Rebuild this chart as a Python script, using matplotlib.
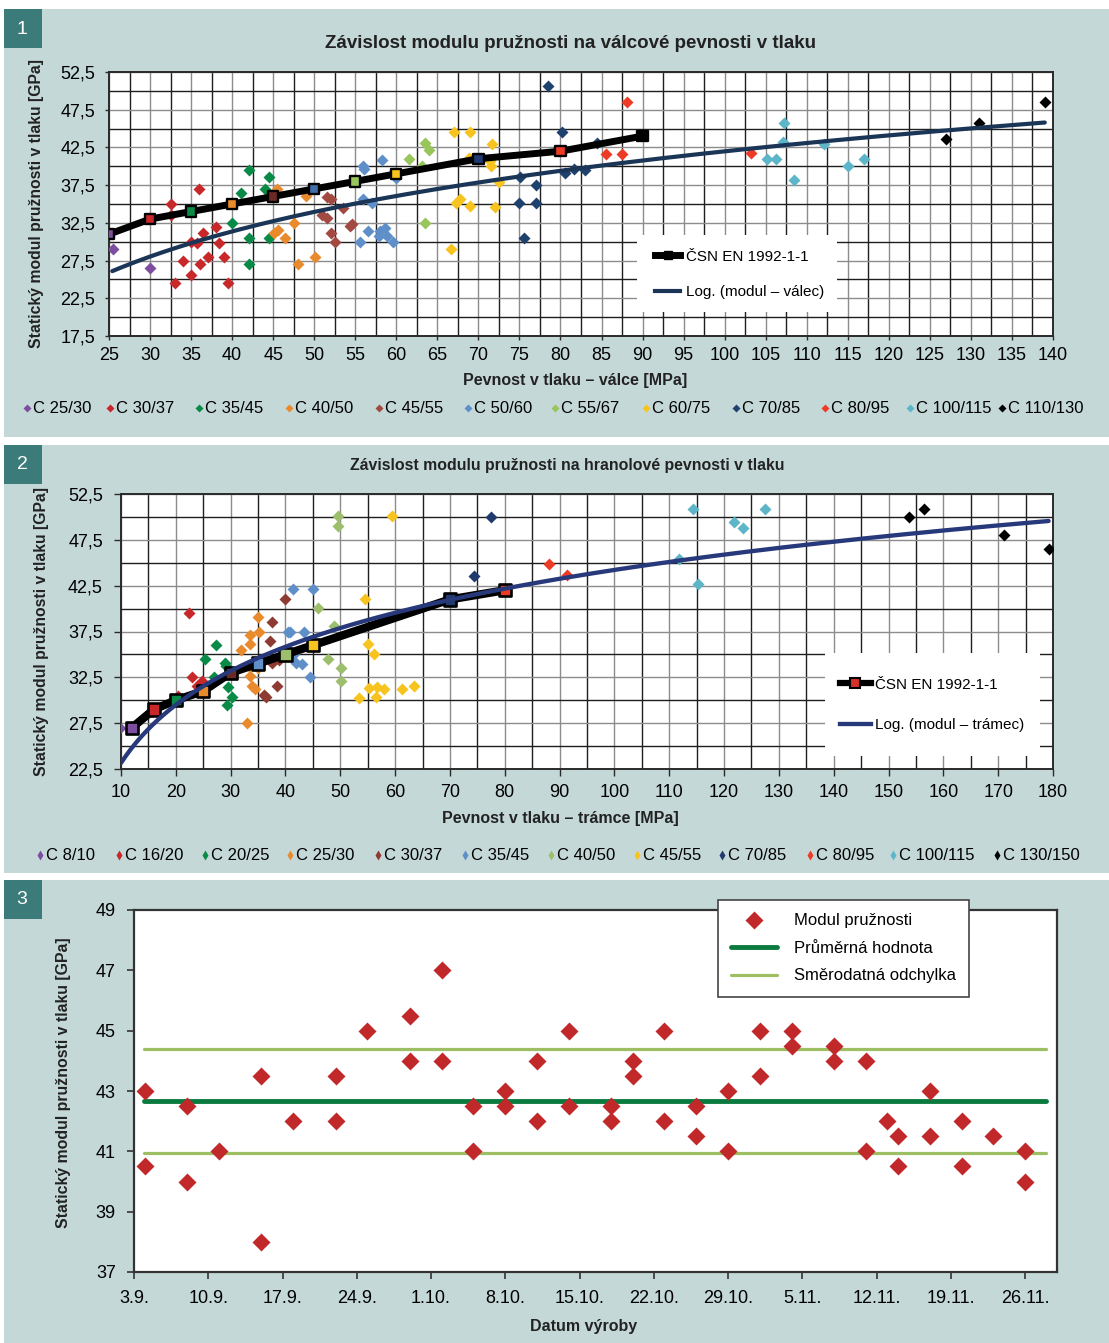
"""
Modul pružnosti betonu: válcová pevnost, hranolová pevnost a časová řada.
Writes out.png (1109 x 1343 px).
"""
import numpy as np
import matplotlib
matplotlib.use("Agg")
import matplotlib.pyplot as plt
from matplotlib.lines import Line2D
from matplotlib.patches import Rectangle
from matplotlib.ticker import MultipleLocator, FixedLocator, FuncFormatter

W, H, DPI = 1109, 1343, 100
plt.rcParams["font.family"] = ["Liberation Sans", "DejaVu Sans"]

BG    = "#C5D8D8"
BOX   = "#3B7B79"
GRID_MAJ = "#8C8C8C"
GRID_MIN = "#1E1E1E"
SPINE = "#2A2A2A"

# ── data: graf 1 (válce) ─────────────────────────────────────────────────────
p1_labels = ["C 25/30", "C 30/37", "C 35/45", "C 40/50", "C 45/55", "C 50/60",
             "C 55/67", "C 60/75", "C 70/85", "C 80/95", "C 100/115", "C 110/130"]
p1_colors = ["#7D4E9F", "#C8282A", "#0A8A47", "#E98A2C", "#A24A42", "#5E8FC9",
             "#98C65B", "#F7C31E", "#1F416D", "#EE3B26", "#5DB5C9", "#000000"]
p1_x = [
    [25.5, 30.0],
    [32.5, 32.5, 36.0, 33.1, 35.0, 34.0, 35.0, 35.7, 36.5, 36.1, 37.0, 38.0, 38.4, 39.0, 39.5],
    [42.0, 41.1, 44.5, 44.0, 40.0, 42.0, 44.5, 42.0],
    [45.5, 45.1, 45.6, 46.5, 47.5, 49.0, 48.0, 50.1],
    [51.6, 52.0, 53.5, 51.0, 51.5, 54.3, 54.6, 52.0, 52.5],
    [56.0, 56.1, 58.2, 56.0, 57.0, 56.5, 55.6, 58.0, 58.6, 57.9, 58.9, 59.6, 60.0],
    [63.5, 64.0, 61.5, 63.1, 63.5],
    [67.0, 69.0, 71.6, 68.8, 71.4, 71.5, 72.5, 67.3, 67.7, 69.0, 72.0, 66.7],
    [78.5, 80.2, 84.5, 75.1, 77.0, 74.9, 77.0, 75.5, 80.5, 81.6, 83.0],
    [88.1, 85.5, 87.5, 103.2],
    [107.2, 107.1, 105.1, 106.3, 108.4, 112.1, 115.0, 117.0],
    [127.0, 131.0, 139.0],
]
p1_y = [
    [29.0, 26.5],
    [35.0, 33.5, 37.0, 24.5, 25.6, 27.5, 30.0, 29.8, 31.1, 27.0, 28.0, 32.0, 29.8, 28.0, 24.5],
    [39.5, 36.5, 38.6, 37.0, 32.5, 30.5, 30.5, 27.0],
    [37.0, 31.1, 31.5, 30.5, 32.5, 36.0, 27.0, 28.0],
    [35.9, 35.6, 34.5, 33.5, 33.1, 32.1, 32.3, 31.1, 30.0],
    [40.1, 39.6, 40.8, 35.6, 35.1, 31.4, 30.0, 31.4, 31.8, 30.8, 30.7, 30.0, 38.5],
    [43.1, 42.1, 41.0, 40.0, 32.5],
    [44.6, 44.6, 42.9, 41.1, 40.7, 40.1, 37.9, 35.1, 35.6, 34.7, 34.6, 29.1],
    [50.6, 44.5, 43.1, 38.6, 37.5, 35.1, 35.1, 30.5, 39.1, 39.6, 39.5],
    [48.5, 41.6, 41.6, 41.8],
    [45.7, 43.2, 40.9, 40.9, 38.2, 42.9, 40.0, 41.0],
    [43.6, 45.7, 48.5],
]
p1_csn_x = [25, 30, 35, 40, 45, 50, 55, 60, 70, 80, 90]
p1_csn_y = [31, 33, 34, 35, 36, 37, 38, 39, 41, 42, 44]
p1_csn_colors = ["#7D4E9F", "#C8282A", "#0A8A47", "#E98A2C", "#6B2B25", "#3F6FA8",
                 "#98C65B", "#F7C31E", "#1F3A70", "#EE3B26", "#000000"]
p1_log_coef = (11.59, -11.39)     # Excel log trendline: E = a*ln(f) + b
p1_log_span = (25.4, 139.0)
p1_yticks = [17.5, 22.5, 27.5, 32.5, 37.5, 42.5, 47.5, 52.5]

# ── data: graf 2 (trámce) ────────────────────────────────────────────────────
p2_labels = ["C 8/10", "C 16/20", "C 20/25", "C 25/30", "C 30/37", "C 35/45",
             "C 40/50", "C 45/55", "C 70/85", "C 80/95", "C 100/115", "C 130/150"]
p2_colors = ["#7D4E9F", "#C8282A", "#0A8A47", "#E98A2C", "#8E3B33", "#5E8FC9",
             "#9DBE6C", "#F7C31E", "#203A6E", "#EE3B26", "#5DB5C9", "#000000"]
p2_x = [
    [9.9, 12.0],
    [22.4, 23.0, 23.9, 24.8, 20.4],
    [27.4, 25.4, 26.9, 28.9, 29.2, 29.6, 30.3, 29.4],
    [35.0, 35.2, 33.5, 33.6, 31.9, 33.3, 34.9, 33.6, 33.9, 34.4, 32.9],
    [40.0, 37.5, 37.1, 37.6, 38.8, 38.5, 36.1, 36.5],
    [41.4, 45.0, 40.5, 40.9, 43.4, 40.9, 41.6, 42.0, 43.1, 44.5],
    [49.5, 49.5, 46.0, 48.9, 47.8, 50.1, 50.1],
    [59.5, 54.5, 55.0, 56.2, 53.4, 55.3, 56.7, 56.6, 58.0, 61.2, 63.5],
    [77.4, 74.4],
    [88.0, 91.4],
    [114.4, 111.7, 115.3, 121.9, 123.4, 127.4],
    [153.7, 156.5, 171.0, 179.2],
]
p2_y = [
    [27.0, 27.0],
    [39.5, 32.5, 31.6, 32.1, 30.5],
    [36.0, 34.5, 32.5, 34.1, 33.7, 31.5, 30.4, 29.5],
    [39.1, 37.5, 37.1, 36.1, 35.5, 33.7, 33.5, 32.6, 31.6, 31.2, 27.5],
    [41.1, 38.5, 36.5, 34.1, 34.4, 31.6, 30.6, 30.4],
    [42.1, 42.1, 37.5, 37.5, 37.5, 35.3, 35.0, 34.1, 34.0, 32.5],
    [50.1, 49.0, 40.1, 38.1, 34.5, 33.5, 32.1],
    [50.1, 41.1, 36.1, 35.1, 30.3, 31.3, 31.5, 30.4, 31.2, 31.2, 31.6],
    [50.0, 43.6],
    [44.9, 43.7],
    [50.9, 45.4, 42.7, 49.4, 48.8, 50.9],
    [50.0, 50.9, 48.0, 46.5],
]
p2_csn_x = [12, 16, 20, 25, 30, 35, 40, 45, 70, 80]
p2_csn_y = [27, 29, 30, 31, 33, 34, 35, 36, 41, 42]
p2_csn_colors = ["#7D4E9F", "#C8282A", "#0A8A47", "#E98A2C", "#6B2B25", "#5E8FC9",
                 "#9DBE6C", "#F7C31E", "#203A6E", "#EE3B26"]
p2_log_coef = (9.148, 2.09)
p2_log_span = (10.0, 179.2)
p2_yticks = [22.5, 27.5, 32.5, 37.5, 42.5, 47.5, 52.5]

# ── data: graf 3 (časová řada, den 0 = 3.9.) ─────────────────────────────────
p3_days = [1, 1, 5, 5, 8, 12, 12, 15, 19, 19, 22, 26, 26, 29, 29, 32, 32, 35, 35,
           38, 38, 41, 41, 45, 45, 47, 47, 50, 50, 53, 53, 56, 56, 59, 59, 62, 62,
           66, 66, 69, 69, 71, 72, 72, 75, 75, 78, 78, 81, 84, 84]
p3_modul = [43.0, 40.5, 42.5, 40.0, 41.0, 43.5, 38.0, 42.0, 43.5, 42.0, 45.0, 45.5,
            44.0, 47.0, 44.0, 42.5, 41.0, 43.0, 42.5, 44.0, 42.0, 45.0, 42.5, 42.5,
            42.0, 44.0, 43.5, 45.0, 42.0, 42.5, 41.5, 43.0, 41.0, 45.0, 43.5, 45.0,
            44.5, 44.5, 44.0, 44.0, 41.0, 42.0, 41.5, 40.5, 43.0, 41.5, 42.0, 40.5,
            41.5, 41.0, 40.0]
p3_line_days = [0.9, 86.0]
p3_yticks = [37, 39, 41, 43, 45, 47, 49]
p3_tick_days = [0, 7, 14, 21, 28, 35, 42, 49, 56, 63, 70, 77, 84]
p3_tick_labels = ["3.9.", "10.9.", "17.9.", "24.9.", "1.10.", "8.10.", "15.10.",
                  "22.10.", "29.10.", "5.11.", "12.11.", "19.11.", "26.11."]


# ── helpers ──────────────────────────────────────────────────────────────────

def fig_rect(fig, x0, y0, x1, y1, color, z=0):
    fig.add_artist(Rectangle((x0 / W, 1 - y1 / H), (x1 - x0) / W, (y1 - y0) / H,
                             transform=fig.transFigure, facecolor=color,
                             edgecolor="none", zorder=z))


def px_axes(fig, x0, y0, x1, y1):
    return fig.add_axes([x0 / W, 1 - y1 / H, (x1 - x0) / W, (y1 - y0) / H])


def ftext(fig, x, y, s, **kw):
    kw.setdefault("ha", "center")
    kw.setdefault("va", "center")
    fig.text(x / W, 1 - y / H, s, **kw)


def comma(v, pos):
    return f"{v:.1f}".replace(".", ",")


def grid_axes(ax, xlim, ylim, xmaj, xmin, yticks, tick_len, ypad, xpad):
    ax.set_xlim(*xlim)
    ax.set_ylim(*ylim)
    ax.xaxis.set_major_locator(MultipleLocator(xmaj))
    ax.xaxis.set_minor_locator(MultipleLocator(xmin))
    ax.yaxis.set_major_locator(FixedLocator(yticks))
    ax.yaxis.set_minor_locator(MultipleLocator(5))
    ax.yaxis.set_major_formatter(FuncFormatter(comma))
    ax.set_axisbelow(True)
    ax.grid(which="major", color=GRID_MAJ, lw=1.0)
    ax.grid(which="minor", color=GRID_MIN, lw=1.0)
    ax.tick_params(which="minor", length=0)
    ax.tick_params(axis="y", which="major", direction="out", length=tick_len,
                   width=1.0, color=SPINE, labelsize=13, pad=ypad)
    ax.tick_params(axis="x", which="major", direction="out", length=tick_len,
                   width=1.0, color=SPINE, labelsize=13, pad=xpad)
    for sp in ax.spines.values():
        sp.set_color(SPINE)
        sp.set_linewidth(1.4)


def class_row(fig, labels, colors, xs, y, marker, ms, dx):
    for lab, c, x in zip(labels, colors, xs):
        fig.add_artist(Line2D([x / W], [1 - y / H], transform=fig.transFigure,
                              ls="none", marker=marker, ms=ms, color=c, mec="none"))
        ftext(fig, x + dx, y, lab, ha="left", fontsize=12)


# ── figure ───────────────────────────────────────────────────────────────────

fig = plt.figure(figsize=(W / DPI, H / DPI), dpi=DPI)
fig.patch.set_facecolor("white")

# panel backgrounds and number boxes
for (y0, y1, num) in [(9, 437, "1"), (445, 873, "2"), (880, 1343, "3")]:
    fig_rect(fig, 4, y0, W, y1, BG)
    fig_rect(fig, 4, y0, 42, y0 + 39, BOX, z=1)
    ftext(fig, 22, y0 + 20, num, color="white", fontsize=14)

# ── graf 1 ──
ax1 = px_axes(fig, 109, 72, 1053, 336)
grid_axes(ax1, (25, 140), (17.5, 52.5), 5, 2.5, p1_yticks, 3, 7, 5)
for xs, ys, c in zip(p1_x, p1_y, p1_colors):
    ax1.plot(xs, ys, ls="none", marker="D", ms=6.0, color=c, mec="none", zorder=3)
ax1.plot(p1_csn_x, p1_csn_y, color="black", lw=5.0, zorder=4)
ax1.scatter(p1_csn_x, p1_csn_y, marker="s", s=55, c=p1_csn_colors,
            edgecolors="black", linewidths=1.7, zorder=4.5)
fx = np.linspace(*p1_log_span, 200)
ax1.plot(fx, p1_log_coef[0] * np.log(fx) + p1_log_coef[1], color="#1B3556",
         lw=3.0, zorder=5, solid_capstyle="round")

fig_rect(fig, 637, 235, 837, 312, "white", z=2)
h1 = [Line2D([], [], color="black", lw=5.0, marker="s", ms=6, mfc="black", mec="black"),
      Line2D([], [], color="#1B3556", lw=3.0)]
fig.legend(h1, ["ČSN EN 1992-1-1", "Log. (modul – válec)"], loc="center left",
           bbox_to_anchor=(655 / W, 1 - 274.5 / H), frameon=False, fontsize=11,
           handlelength=1.65, handletextpad=0.4, labelspacing=1.4,
           borderpad=0, borderaxespad=0)

ftext(fig, 570, 44, "Závislost modulu pružnosti na válcové pevnosti v tlaku",
      fontsize=13.5, weight="bold", color="#222222")
ftext(fig, 37, 204, "Statický modul pružnosti v tlaku [GPa]", rotation=90,
      fontsize=11.3, weight="bold", color="#222222")
ftext(fig, 575, 380, "Pevnost v tlaku – válce [MPa]", fontsize=11.5,
      weight="bold", color="#222222")
class_row(fig, p1_labels, p1_colors,
          [27, 110, 199, 289, 379, 468, 555, 646, 736, 825, 910, 1002],
          408, "D", 4.3, 6)

# ── graf 2 ──
ax2 = px_axes(fig, 121, 494, 1053, 769)
grid_axes(ax2, (10, 180), (22.5, 52.5), 10, 5, p2_yticks, 5, 8, 6)
for xs, ys, c in zip(p2_x, p2_y, p2_colors):
    ax2.plot(xs, ys, ls="none", marker="D", ms=6.4, color=c, mec="none", zorder=3)
ax2.plot(p2_csn_x, p2_csn_y, color="black", lw=6.0, zorder=4)
ax2.scatter(p2_csn_x, p2_csn_y, marker="s", s=78, c=p2_csn_colors,
            edgecolors="black", linewidths=1.9, zorder=4.5)
fx = np.linspace(*p2_log_span, 200)
ax2.plot(fx, p2_log_coef[0] * np.log(fx) + p2_log_coef[1], color="#27397A",
         lw=3.1, zorder=5, solid_capstyle="round")

fig_rect(fig, 825, 653, 1040, 756, "white", z=2)
h2 = [Line2D([], [], color="black", lw=4.5, marker="s", ms=7, mfc="#D7302A",
             mec="black", mew=1.5),
      Line2D([], [], color="#27397A", lw=3.1)]
fig.legend(h2, ["ČSN EN 1992-1-1", "Log. (modul – trámec)"], loc="center left",
           bbox_to_anchor=(840 / W, 1 - 705 / H), frameon=False, fontsize=11,
           handlelength=2.0, handletextpad=0.3, labelspacing=1.75,
           borderpad=0, borderaxespad=0)

ftext(fig, 567, 466, "Závislost modulu pružnosti na hranolové pevnosti v tlaku",
      fontsize=11.4, weight="bold", color="#222222")
ftext(fig, 42, 632, "Statický modul pružnosti v tlaku [GPa]", rotation=90,
      fontsize=11.3, weight="bold", color="#222222")
ftext(fig, 560, 818, "Pevnost v tlaku – trámce [MPa]", fontsize=11.5,
      weight="bold", color="#222222")
class_row(fig, p2_labels, p2_colors,
          [40, 119, 205, 290, 378, 465, 551, 637, 722, 810, 893, 997],
          855, "d", 5.5, 6)

# ── graf 3 ──
ax3 = px_axes(fig, 134, 910, 1057, 1272)
mean = np.mean(p3_modul)
sd = np.std(p3_modul, ddof=1)
ax3.plot(p3_line_days, [mean + sd] * 2, color="#9DBE63", lw=2.3,
         solid_capstyle="round", zorder=2)
ax3.plot(p3_line_days, [mean - sd] * 2, color="#9DBE63", lw=2.3,
         solid_capstyle="round", zorder=2)
ax3.plot(p3_line_days, [mean] * 2, color="#0A7A3E", lw=3.5,
         solid_capstyle="round", zorder=2)
ax3.plot(p3_days, p3_modul, ls="none", marker="D", ms=9, color="#C0282A",
         mec="none", zorder=3)
ax3.set_xlim(0, 87)
ax3.set_ylim(37, 49)
ax3.set_yticks(p3_yticks)
ax3.set_xticks(p3_tick_days)
ax3.set_xticklabels(p3_tick_labels)
ax3.tick_params(direction="out", length=5, width=1.2, color="#333333",
                labelsize=13, pad=8)
for sp in ax3.spines.values():
    sp.set_color("#333333")
    sp.set_linewidth(1.6)

h3 = [Line2D([], [], ls="none", marker="D", ms=9, color="#C0282A", mec="none"),
      Line2D([], [], color="#0A7A3E", lw=3.5, solid_capstyle="round"),
      Line2D([], [], color="#9DBE63", lw=2.3, solid_capstyle="round")]
leg3 = fig.legend(h3, ["Modul pružnosti", "Průměrná hodnota", "Směrodatná odchylka"],
                  loc="upper left", bbox_to_anchor=(718 / W, 1 - 900 / H),
                  fontsize=12, handlelength=2.75, handletextpad=1.0,
                  labelspacing=0.75, borderpad=0.8, borderaxespad=0,
                  fancybox=False, framealpha=1, edgecolor="#444444")
leg3.get_frame().set_linewidth(1.2)

ftext(fig, 64, 1083, "Statický modul pružnosti v tlaku [GPa]", rotation=90,
      fontsize=11.4, weight="bold", color="#222222")
ftext(fig, 584, 1326, "Datum výroby", fontsize=11.5, weight="bold", color="#222222")

fig.savefig("out.png", dpi=DPI)
